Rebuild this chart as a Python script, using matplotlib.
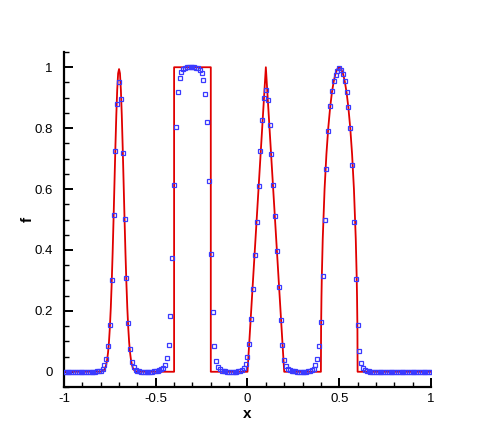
import numpy as np
import matplotlib
matplotlib.use("Agg")
import matplotlib.pyplot as plt
from matplotlib.ticker import MultipleLocator

plt.rcParams['font.family'] = ['Liberation Sans', 'DejaVu Sans']
plt.rcParams['axes.unicode_minus'] = False

# exact solution
exact_x = [-1.0, -0.8,
           -0.795, -0.79, -0.785, -0.78, -0.775, -0.77, -0.765, -0.76, -0.755, -0.75,
           -0.745, -0.74, -0.735, -0.73, -0.725, -0.72, -0.715, -0.71, -0.705, -0.70,
           -0.695, -0.69, -0.685, -0.68, -0.675, -0.67, -0.665, -0.66, -0.655, -0.65,
           -0.645, -0.64, -0.635, -0.63, -0.625, -0.62, -0.615, -0.61, -0.605, -0.60,
           -0.4, -0.4, -0.2, -0.2,
           0.0, 0.1, 0.2,
           0.4, 0.401, 0.403, 0.405, 0.41, 0.42, 0.43, 0.44, 0.45, 0.46, 0.47, 0.48, 0.49,
           0.50, 0.51, 0.52, 0.53, 0.54, 0.55, 0.56, 0.57, 0.58, 0.59, 0.595, 0.597, 0.599,
           0.6, 1.0]
exact_f = [0.0, 0.0005,
           0.001, 0.002, 0.004, 0.007, 0.013, 0.023, 0.039, 0.063, 0.097, 0.146,
           0.210, 0.292, 0.389, 0.500, 0.618, 0.735, 0.841, 0.926, 0.980, 0.994,
           0.980, 0.926, 0.841, 0.735, 0.618, 0.500, 0.389, 0.292, 0.210, 0.146,
           0.097, 0.063, 0.039, 0.023, 0.013, 0.007, 0.004, 0.002, 0.001, 0.0005,
           0.0, 1.0, 1.0, 0.0,
           0.0, 1.0, 0.0,
           0.0, 0.141, 0.243, 0.312, 0.436, 0.600, 0.714, 0.800, 0.866, 0.917, 0.954, 0.980, 0.995,
           1.000, 0.995, 0.980, 0.954, 0.917, 0.866, 0.800, 0.714, 0.600, 0.436, 0.312, 0.243, 0.141,
           0.0, 0.0]

# numerical solution on the 201-point grid x = -1 .. 1
num_x = np.linspace(-1.0, 1.0, 201)
num_f = [
    0, 0, 0, 0, 0, 0, 0, 0, 0, 0,                                              # -1.00
    0, 0, 0, 0, 0, 0, 0, 0, 0.001, 0.002,                                      # -0.90
    0.004, 0.010, 0.023, 0.043, 0.083, 0.155, 0.300, 0.516, 0.724, 0.879,      # -0.80
    0.951, 0.896, 0.718, 0.503, 0.307, 0.161, 0.074, 0.033, 0.015, 0.007,      # -0.70
    0.003, 0.001, 0, 0, 0, 0, 0, 0, 0, 0.001,                                  # -0.60
    0.002, 0.003, 0.005, 0.008, 0.013, 0.023, 0.045, 0.089, 0.182, 0.375,      # -0.50
    0.613, 0.805, 0.918, 0.966, 0.986, 0.995, 0.999, 1.000, 1.001, 1.002,      # -0.40
    1.002, 1.001, 0.999, 0.997, 0.992, 0.980, 0.957, 0.911, 0.820, 0.626,      # -0.30
    0.388, 0.196, 0.086, 0.036, 0.016, 0.008, 0.004, 0.002, 0.001, 0,          # -0.20
    0, 0, 0, 0, 0, 0.001, 0.003, 0.006, 0.012, 0.025,                          # -0.10
    0.047, 0.091, 0.172, 0.273, 0.382, 0.493, 0.610, 0.725, 0.827, 0.898,      # 0.00
    0.925, 0.892, 0.811, 0.714, 0.613, 0.510, 0.397, 0.278, 0.170, 0.089,      # 0.10
    0.040, 0.018, 0.010, 0.006, 0.003, 0.002, 0.001, 0, 0, 0,                  # 0.20
    0, 0, 0, 0.001, 0.003, 0.005, 0.010, 0.022, 0.043, 0.084,                  # 0.30
    0.164, 0.316, 0.500, 0.665, 0.791, 0.874, 0.923, 0.954, 0.976, 0.989,      # 0.40
    0.998, 0.992, 0.978, 0.954, 0.918, 0.868, 0.799, 0.679, 0.493, 0.304,      # 0.50
    0.155, 0.069, 0.030, 0.012, 0.006, 0.003, 0.001, 0, 0, 0,                  # 0.60
    0, 0, 0, 0, 0, 0, 0, 0, 0, 0,                                              # 0.70
    0, 0, 0, 0, 0, 0, 0, 0, 0, 0,                                              # 0.80
    0, 0, 0, 0, 0, 0, 0, 0, 0, 0, 0,                                           # 0.90 .. 1.00
]

x_ticks = [-1, -0.5, 0, 0.5, 1]
x_labels = ['-1', '-0.5', '0', '0.5', '1']
y_ticks = [0, 0.2, 0.4, 0.6, 0.8, 1]
y_labels = ['0', '0.2', '0.4', '0.6', '0.8', '1']

fig = plt.figure(figsize=(4.9, 4.36), dpi=100)
ax = fig.add_axes([0.1306, 0.1124, 0.749, 0.7683])

ax.plot(exact_x, exact_f, color='#e00000', lw=1.3, zorder=2)
ax.plot(num_x, num_f, ls='none', marker='s', ms=3.5, mfc='none',
        mec='#3a3aff', mew=0.9, zorder=3)

ax.set_xlim(-1, 1)
ax.set_ylim(-0.05, 1.05)
ax.spines['top'].set_visible(False)
ax.spines['right'].set_visible(False)
ax.spines['left'].set_linewidth(1.6)
ax.spines['bottom'].set_linewidth(1.6)

ax.set_xticks(x_ticks)
ax.set_xticklabels(x_labels)
ax.set_yticks(y_ticks)
ax.set_yticklabels(y_labels)
ax.xaxis.set_minor_locator(MultipleLocator(0.1))
ax.yaxis.set_minor_locator(MultipleLocator(0.05))
ax.tick_params(which='both', direction='in', labelsize=9.5, width=1.0)
ax.tick_params(which='major', length=6.5, width=1.4)
ax.tick_params(which='minor', length=3.5)
ax.tick_params(axis='x', pad=4)
ax.tick_params(axis='y', pad=8)

ax.set_xlabel('x', fontsize=11, fontweight='bold', labelpad=2)
ax.set_ylabel('f', fontsize=11, fontweight='bold', labelpad=0)

fig.savefig('out.png', dpi=100)
